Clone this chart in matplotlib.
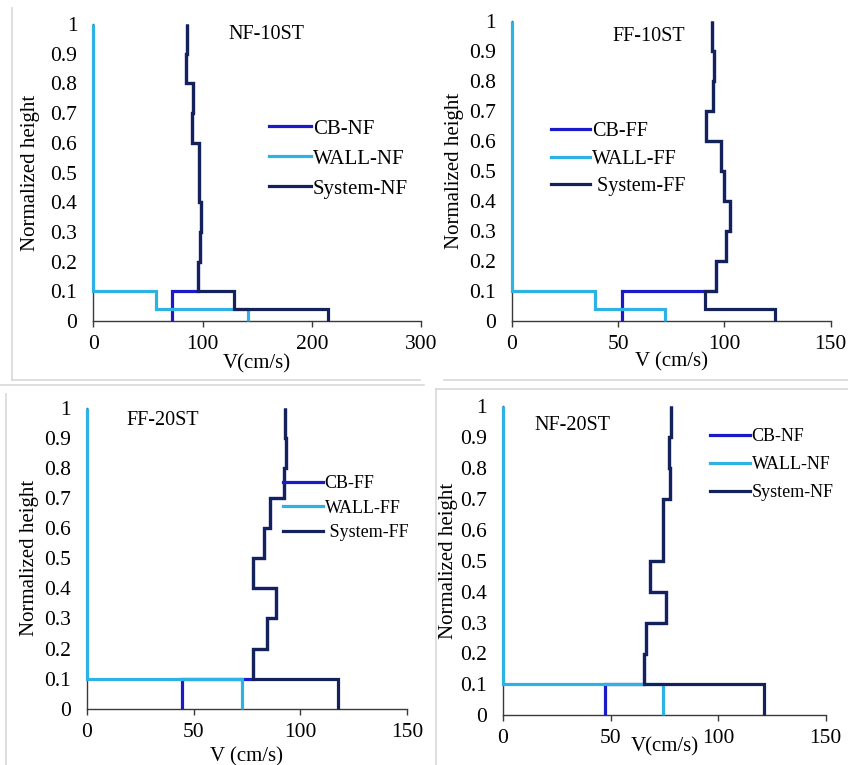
import matplotlib
matplotlib.use('Agg')
import matplotlib.pyplot as plt
from matplotlib.lines import Line2D

plt.rcParams['font.family'] = ['Liberation Serif', 'DejaVu Serif']

# storey edges (normalized height)
edges10 = [0, 0.04, 0.1, 0.2, 0.3, 0.4, 0.5, 0.6, 0.7, 0.8, 0.9, 1.0]
edges20 = [0, 0.1, 0.2, 0.3, 0.4, 0.5, 0.6, 0.7, 0.8, 0.9, 1.0]

# NF-10ST
cb_nf10 = [72, 72, 96, 97.5, 98.5, 97, 96.5, 90, 91.5, 85, 85.5]
wall_nf10 = [142, 57, 0, 0, 0, 0, 0, 0, 0, 0, 0]
sys_nf10 = [215, 128.5, 96, 97.5, 98.5, 97, 96.5, 90, 91.5, 85, 85.5]

# FF-10ST
cb_ff10 = [52, 52, 96, 101, 102.5, 100, 98.5, 91.5, 94.5, 95, 94]
wall_ff10 = [72, 39, 0, 0, 0, 0, 0, 0, 0, 0, 0]
sys_ff10 = [124, 91, 96, 101, 102.5, 100, 98.5, 91.5, 94.5, 95, 94]

# FF-20ST
cb_ff20 = [44.5, 77.6, 84.2, 88.5, 77.9, 83.1, 85.7, 92.3, 93.2, 92.8]
wall_ff20 = [72.5, 0, 0, 0, 0, 0, 0, 0, 0, 0]
sys_ff20 = [117.5, 77.6, 84.2, 88.5, 77.9, 83.1, 85.7, 92.3, 93.2, 92.8]

# NF-20ST
cb_nf20 = [47.3, 65.5, 66.3, 75.6, 68.3, 74.2, 74.5, 77.6, 77.3, 78.3]
wall_nf20 = [74.2, 0, 0, 0, 0, 0, 0, 0, 0, 0]
sys_nf20 = [121.5, 65.5, 66.3, 75.6, 68.3, 74.2, 74.5, 77.6, 77.3, 78.3]

C_CB = '#1a1ac8'
C_WALL = '#2db2e3'
C_SYS = '#14225a'

W, H = 848, 765
fig = plt.figure(figsize=(W / 100, H / 100), dpi=100)


def px_axes(x0, x1, ytop, ybot):
    return fig.add_axes([x0 / W, 1 - ybot / H, (x1 - x0) / W, (ybot - ytop) / H])


panels = [
    dict(box=(93.3, 421, 24, 321), xmax=300, step=100, edges=edges10,
         data=(cb_nf10, wall_nf10, sys_nf10), labels=['CB-NF', 'WALL-NF', 'System-NF'],
         title='NF-10ST', tpos=(124, 0.963), leg=(269, 119), lfs=15, lsp=0.5, hl=2.0,
         xlabel='V(cm/s)', lpad=0, ylx=40),
    dict(box=(511.7, 830.7, 20.7, 321), xmax=150, step=50, edges=edges10,
         data=(cb_ff10, wall_ff10, sys_ff10), labels=['CB-FF', 'WALL-FF', ' System-FF'],
         title='FF-10ST', tpos=(47.6, 0.947), leg=(550.7, 122), lfs=14.5, lsp=0.42, hl=1.95,
         xlabel='V (cm/s)', lpad=-1, ylx=464),
    dict(box=(86.7, 407.3, 408, 708.7), xmax=150, step=50, edges=edges20,
         data=(cb_ff20, wall_ff20, sys_ff20), labels=['CB-FF', 'WALL-FF', ' System-FF'],
         title='FF-20ST', tpos=(18.4, 0.959), leg=(283, 475), lfs=13, lsp=0.42, hl=2.2,
         xlabel='V (cm/s)', lpad=4, ylx=39),
    dict(box=(503, 825.7, 406.3, 715.3), xmax=150, step=50, edges=edges20,
         data=(cb_nf20, wall_nf20, sys_nf20), labels=['CB-NF', 'WALL-NF', 'System-NF'],
         title='NF-20ST', tpos=(14.4, 0.938), leg=(710, 428), lfs=13, lsp=0.62, hl=2.2,
         xlabel='V(cm/s)', lpad=-8, ylx=458),
]

for p in panels:
    ax = px_axes(*p['box'])
    cb, wall, sysv = p['data']
    ax.stairs(cb, p['edges'], orientation='horizontal', baseline=None,
              color=C_CB, lw=2.3, zorder=3, clip_on=False)
    ax.stairs(wall, p['edges'], orientation='horizontal', baseline=None,
              color=C_WALL, lw=2.3, zorder=4, clip_on=False)
    ax.stairs(sysv, p['edges'], orientation='horizontal', baseline=None,
              color=C_SYS, lw=2.3, zorder=5, clip_on=False)
    ax.set_xlim(0, p['xmax'])
    ax.set_ylim(0, 1)
    ax.set_xticks(range(0, p['xmax'] + 1, p['step']))
    ax.set_yticks([i / 10 for i in range(11)])
    ax.set_yticklabels(['%g' % (i / 10) for i in range(11)])
    for s in ['top', 'right']:
        ax.spines[s].set_visible(False)
    for s in ['left', 'bottom']:
        ax.spines[s].set_color('#3a3a3a')
        ax.spines[s].set_linewidth(1.0)
    ax.tick_params(axis='x', length=4, width=1, color='#3a3a3a', labelsize=15.5, pad=6)
    ax.tick_params(axis='y', length=0, labelsize=15.5, pad=11.5)
    ax.set_xlabel(p['xlabel'], fontsize=15, labelpad=p['lpad'])
    ax.set_ylabel('Normalized height', fontsize=15)
    ax.yaxis.set_label_coords(0, 0.5)
    ax.yaxis.label.set_transform(fig.transFigure)
    ax.yaxis.label.set_position((p['ylx'] / W, 1 - (p['box'][2] + p['box'][3]) / 2 / H))
    ax.text(p['tpos'][0], p['tpos'][1], p['title'], fontsize=14.5, va='center', ha='left')
    handles = [Line2D([], [], color=c, lw=2.3) for c in (C_CB, C_WALL, C_SYS)]
    ax.legend(handles, p['labels'], loc='upper left',
              bbox_to_anchor=(p['leg'][0] / W, 1 - p['leg'][1] / H),
              bbox_transform=fig.transFigure, frameon=False, borderpad=0,
              borderaxespad=0, handlelength=p['hl'], handletextpad=0.1,
              labelspacing=p['lsp'], fontsize=p['lfs'])

# faint screenshot panel borders
for (xa, ya, xb, yb) in [(12, 8, 12, 380), (12, 380, 420, 380), (444, 380, 848, 380),
                         (0, 385, 424, 385), (6, 394, 6, 765), (436, 389, 436, 765),
                         (436, 389, 848, 389)]:
    fig.add_artist(Line2D([xa / W, xb / W], [1 - ya / H, 1 - yb / H],
                          color='#d8d8d8', lw=1.2, transform=fig.transFigure))

fig.savefig('out.png', dpi=100)
